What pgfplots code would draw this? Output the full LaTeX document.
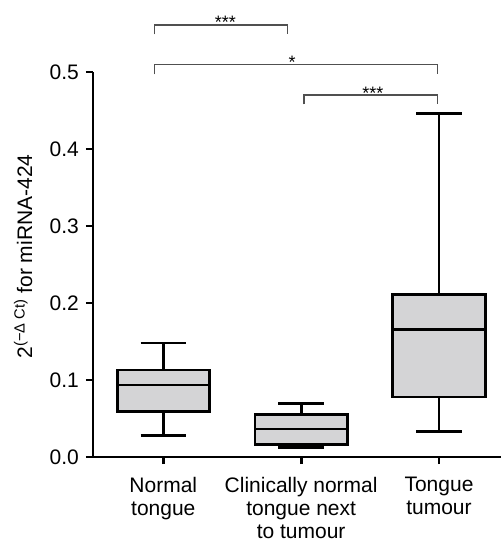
\documentclass[border=0pt]{standalone}
\usepackage{fontspec}
\setmainfont{Liberation Sans}
\usepackage{pgfplots}
\pgfplotsset{compat=1.18}
\usepgfplotslibrary{statistics}
\usetikzlibrary{calc}

\definecolor{boxgray}{HTML}{D4D4D6}
\definecolor{brk}{HTML}{505050}

\begin{document}
\fontsize{21pt}{23pt}\selectfont
\begin{tikzpicture}
\begin{axis}[
  name=ax,
  scale only axis,
  width=408pt, height=385pt,
  xmin=-0.51, xmax=2.45,
  ymin=0, ymax=0.5,
  enlargelimits=false,
  clip=false,
  axis x line*=bottom,
  axis y line*=left,
  axis line style={line width=2.8pt},
  every tick/.style={line width=2.8pt, black},
  tick align=outside,
  major tick length=7pt,
  xtick={0,1,2},
  xticklabels={Normal\\tongue, Clinically normal\\tongue next\\to tumour, Tongue\\tumour},
  xticklabel style={align=center, font=\fontsize{21pt}{23pt}\selectfont, yshift=-6pt},
  ytick={0,0.1,0.2,0.3,0.4,0.5},
  yticklabel style={font=\fontsize{21pt}{23pt}\selectfont,
    /pgf/number format/fixed, /pgf/number format/fixed zerofill,
    /pgf/number format/precision=1, /pgf/number format/assume math mode=true},
  ylabel={2\textsuperscript{(−Δ Ct)} for miRNA-424},
  ylabel style={font=\fontsize{21pt}{23pt}\selectfont, yshift=3pt, xshift=8pt},
  boxplot/draw direction=y,
  boxplot/every median/.style={line width=2.8pt, black},
]
\addplot[boxplot prepared={draw position=0, lower whisker=0.0277, lower quartile=0.059, median=0.0935, upper quartile=0.113, upper whisker=0.148, box extend=0.67, whisker extend=0.33},
  draw=black, fill=boxgray, line width=2.8pt] coordinates {};
\addplot[boxplot prepared={draw position=1, lower whisker=0.012, lower quartile=0.0165, median=0.0364, upper quartile=0.055, upper whisker=0.070, box extend=0.67, whisker extend=0.33},
  draw=black, fill=boxgray, line width=2.8pt] coordinates {};
\addplot[boxplot prepared={draw position=2, lower whisker=0.033, lower quartile=0.078, median=0.166, upper quartile=0.211, upper whisker=0.446, box extend=0.67, whisker extend=0.33},
  draw=black, fill=boxgray, line width=2.8pt] coordinates {};

% extension of the x axis line to the left of the y axis
\draw[line width=2.8pt] (axis cs:-0.51,0) -- ++(-7pt,0);

% significance brackets
\draw[brk, line width=1.3pt] (axis cs:-0.065,0.549) -- (axis cs:-0.065,0.561) -- (axis cs:0.9,0.561) -- (axis cs:0.9,0.549);
\node[font=\fontsize{18pt}{18pt}\selectfont, anchor=base, inner sep=0pt] at (axis cs:0.45,0.557) {***};
\draw[brk, line width=1.3pt] (axis cs:-0.065,0.497) -- (axis cs:-0.065,0.510) -- (axis cs:1.99,0.510) -- (axis cs:1.99,0.497);
\node[font=\fontsize{18pt}{18pt}\selectfont, anchor=base, inner sep=0pt] at (axis cs:0.935,0.505) {*};
\draw[brk, line width=1.3pt] (axis cs:1.02,0.458) -- (axis cs:1.02,0.470) -- (axis cs:1.99,0.470) -- (axis cs:1.99,0.458);
\node[font=\fontsize{18pt}{18pt}\selectfont, anchor=base, inner sep=0pt] at (axis cs:1.52,0.464) {***};
\end{axis}
\pgfresetboundingbox
\path[use as bounding box] ($(ax.south west)+(-93pt,-92pt)$) rectangle ($(ax.south west)+(408pt,457pt)$);
\end{tikzpicture}
\end{document}
